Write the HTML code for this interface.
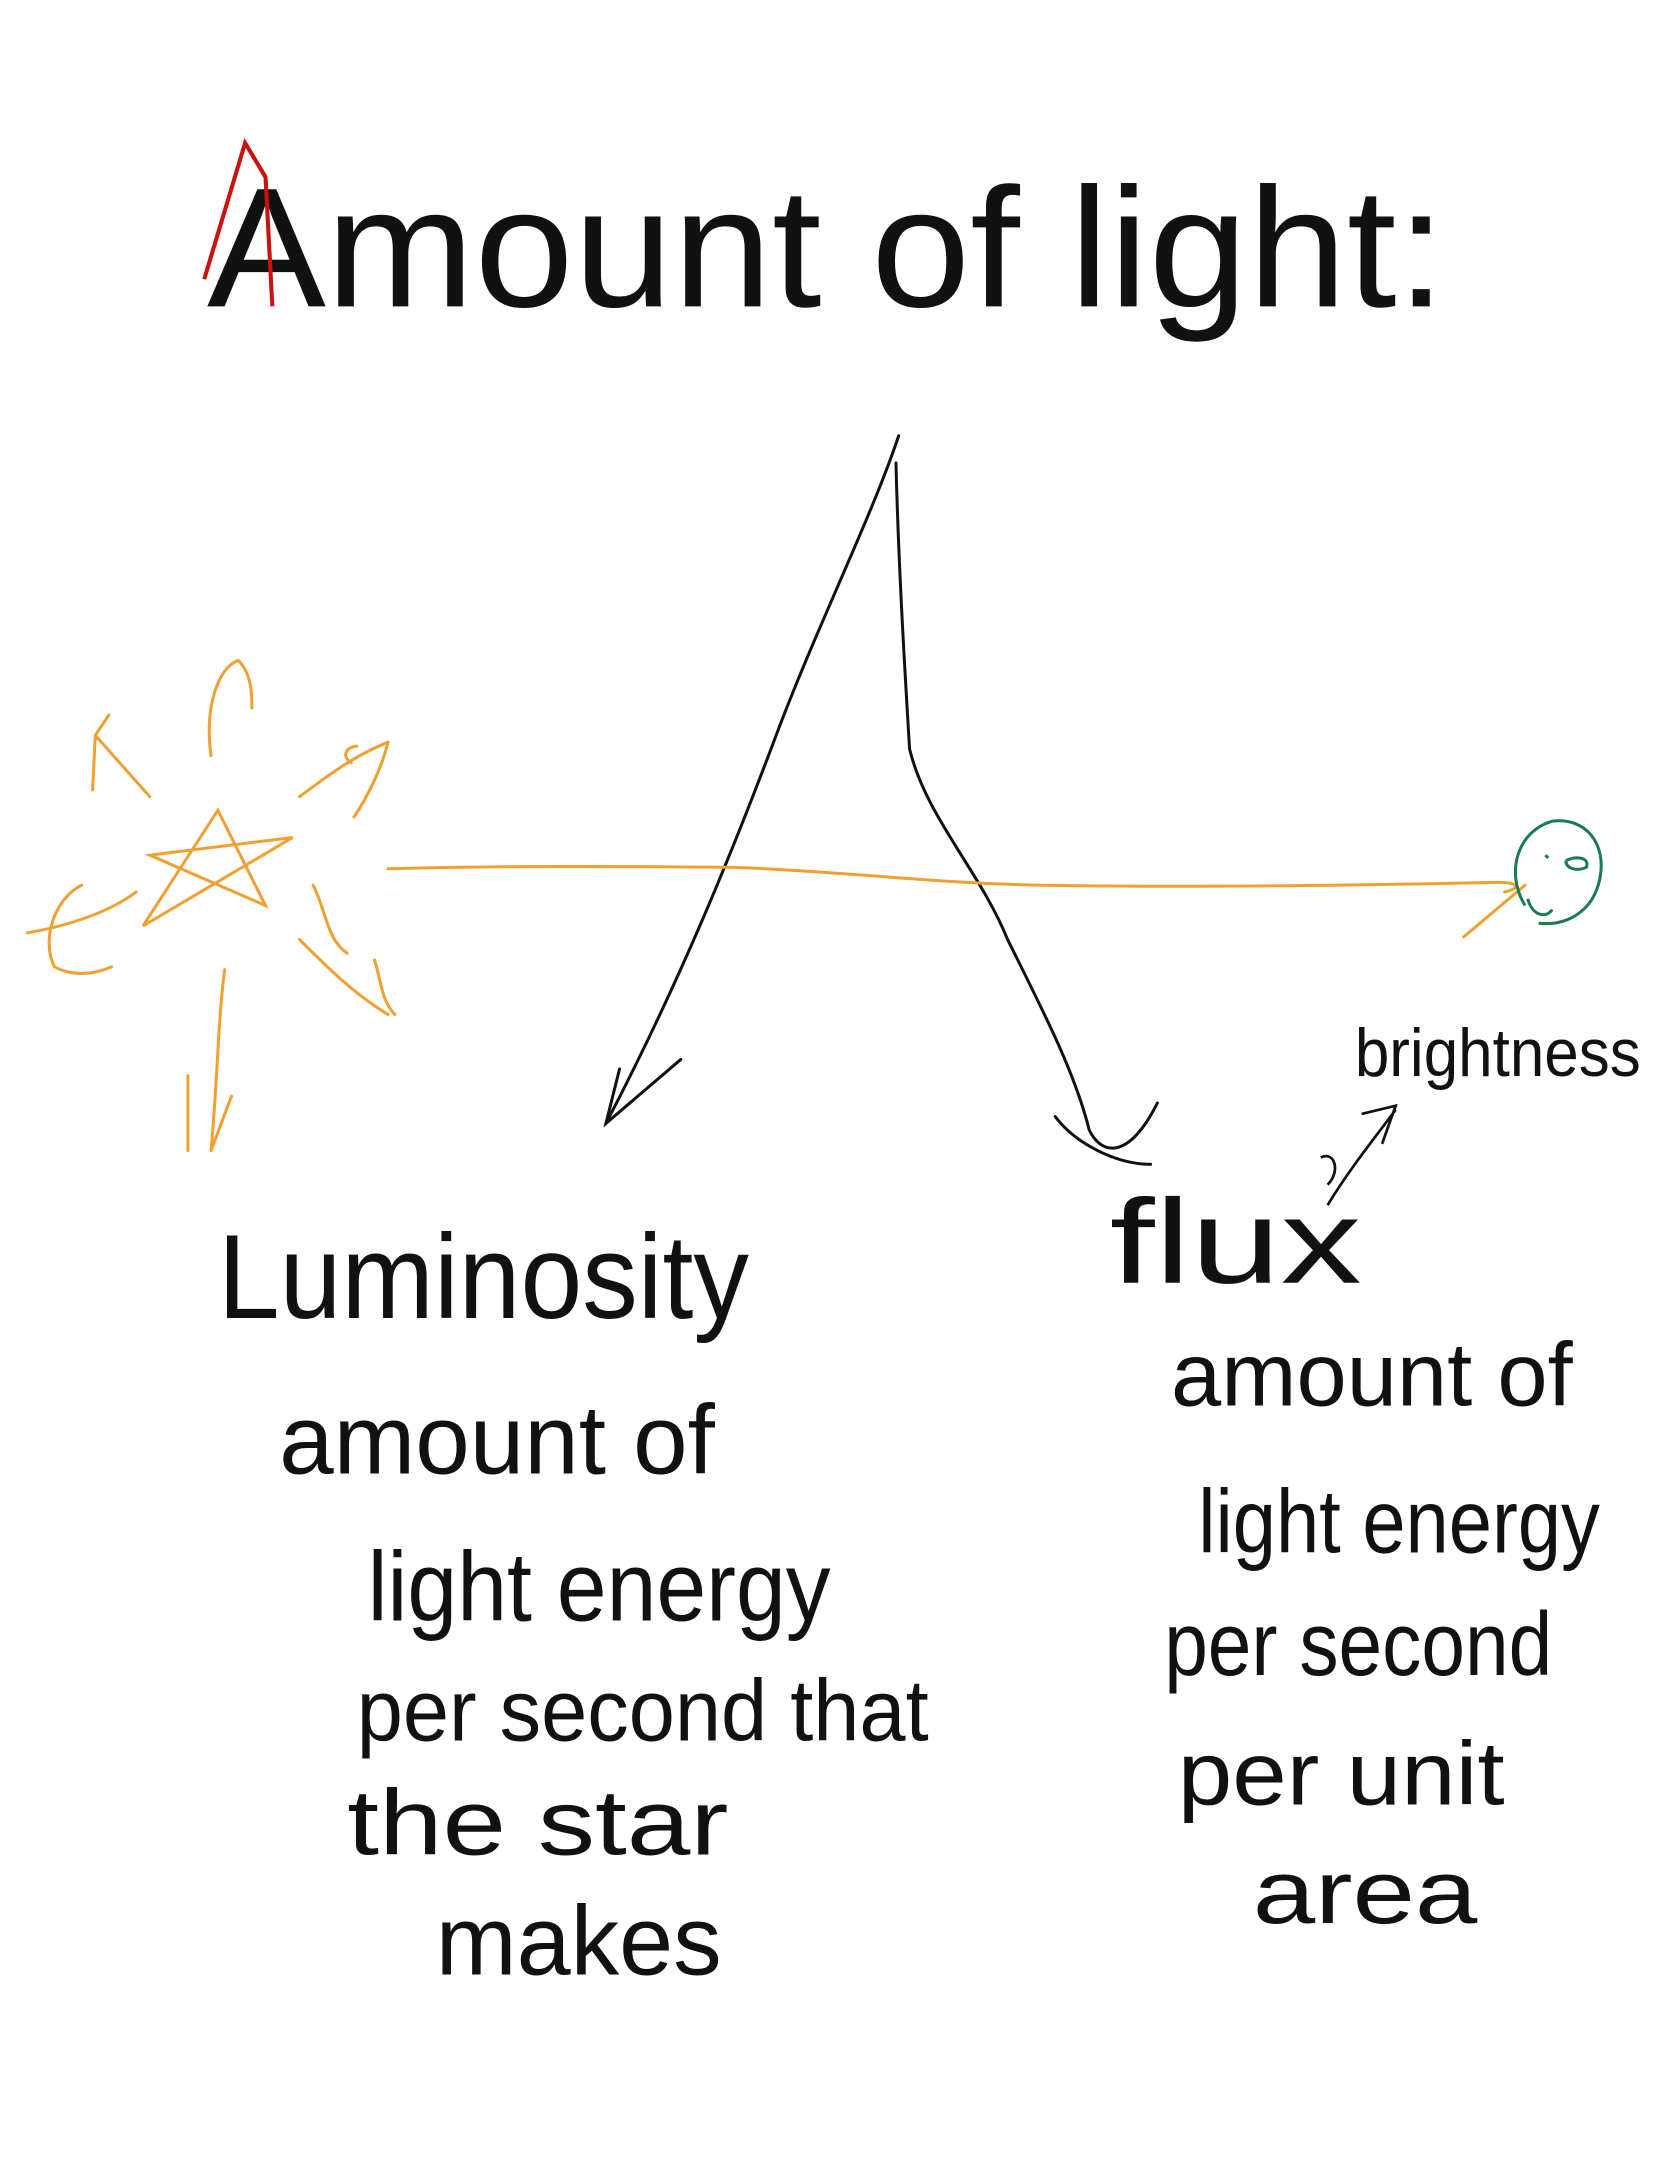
<!DOCTYPE html>
<html>
<head>
<meta charset="utf-8">
<style>
html,body{margin:0;padding:0;background:#fff;}
svg{display:block;}
text{font-family:"Liberation Sans",sans-serif;fill:#111;}
</style>
</head>
<body>
<svg width="1668" height="2157" viewBox="0 0 1225 1584" preserveAspectRatio="none" xmlns="http://www.w3.org/2000/svg">
<rect x="0" y="0" width="1225" height="1584" fill="#fff"/>

<g>
<text x="152" y="225" font-size="125" textLength="910" lengthAdjust="spacingAndGlyphs" style="font-weight:normal">Amount of light:</text>
<path d="M150,205 L180,105 L195,130 L200,225" fill="none" stroke="#cc1111" stroke-width="3"/>
</g>

<g fill="none" stroke="#111" stroke-width="2.2" stroke-linecap="round">
<path d="M660,320 C640,380 600,460 570,540 C540,620 500,720 445,825"/>
<path d="M455,785 L445,825 L500,778"/>
<path d="M658,340 C660,420 665,500 668,550 C680,600 720,640 740,690 C770,750 790,790 800,830 C810,850 830,850 850,810"/>
<path d="M775,820 C790,840 820,855 845,855"/>
</g>

<g fill="none" stroke="#f0a030" stroke-width="2.2" stroke-linecap="round">
<path d="M105,680 L160,595 L195,665 L110,628 L215,615 Z"/>
<path d="M155,555 C150,520 160,490 175,485 C185,495 185,510 185,520"/>
<path d="M110,585 L70,540 M70,540 L80,525 M70,540 L68,580"/>
<path d="M220,585 C240,570 260,555 285,545 M285,545 C280,565 270,585 260,600 M262,548 C255,548 250,555 258,560"/>
<path d="M20,685 C50,680 80,670 100,655 M60,650 C40,660 30,690 40,710 C55,718 70,715 82,710"/>
<path d="M220,690 C240,710 260,730 285,745 M230,650 C240,670 240,690 255,700 M275,705 C280,720 280,735 290,745"/>
<path d="M165,712 C160,750 160,790 155,845 M138,790 L138,845 M155,845 L170,805"/>
<path d="M285,638 C350,636 450,636 540,637 C620,640 680,648 760,650 C880,652 1000,650 1100,648 C1115,648 1118,652 1105,655"/>
<path d="M1075,688 L1120,650"/>
</g>

<g fill="none" stroke="#1a7a50" stroke-width="2.2">
<path d="M1120,665 C1105,640 1115,610 1140,603 C1165,600 1180,620 1175,645 C1170,670 1150,680 1130,678"/>
<path d="M1150,632 C1158,628 1168,630 1165,637 C1158,640 1150,638 1150,632 M1135,628 L1137,630"/>
<path d="M1122,660 C1125,672 1135,675 1140,668"/>
</g>

<g>
<text x="995" y="790" font-size="50" textLength="210" lengthAdjust="spacingAndGlyphs">brightness</text>
<path d="M975,885 C990,860 1010,835 1025,815 M1000,818 L1025,812 L1015,840 M970,850 C980,845 985,860 975,870" fill="none" stroke="#111" stroke-width="2"/>
</g>

<g>
<text x="160" y="968" font-size="88" textLength="390" lengthAdjust="spacingAndGlyphs">Luminosity</text>
<text x="205" y="1082" font-size="72" textLength="320" lengthAdjust="spacingAndGlyphs">amount of</text>
<text x="270" y="1190" font-size="72" textLength="340" lengthAdjust="spacingAndGlyphs">light energy</text>
<text x="262" y="1278" font-size="64" textLength="420" lengthAdjust="spacingAndGlyphs">per second that</text>
<text x="255" y="1362" font-size="68" textLength="280" lengthAdjust="spacingAndGlyphs">the star</text>
<text x="320" y="1450" font-size="72" textLength="210" lengthAdjust="spacingAndGlyphs">makes</text>
</g>

<g>
<text x="815" y="942" font-size="88" textLength="185" lengthAdjust="spacingAndGlyphs">flux</text>
<text x="860" y="1032" font-size="66" textLength="295" lengthAdjust="spacingAndGlyphs">amount of</text>
<text x="880" y="1140" font-size="66" textLength="295" lengthAdjust="spacingAndGlyphs">light energy</text>
<text x="855" y="1230" font-size="66" textLength="285" lengthAdjust="spacingAndGlyphs">per second</text>
<text x="865" y="1325" font-size="66" textLength="240" lengthAdjust="spacingAndGlyphs">per unit</text>
<text x="920" y="1412" font-size="66" textLength="165" lengthAdjust="spacingAndGlyphs">area</text>
</g>
</svg>
</body>
</html>
